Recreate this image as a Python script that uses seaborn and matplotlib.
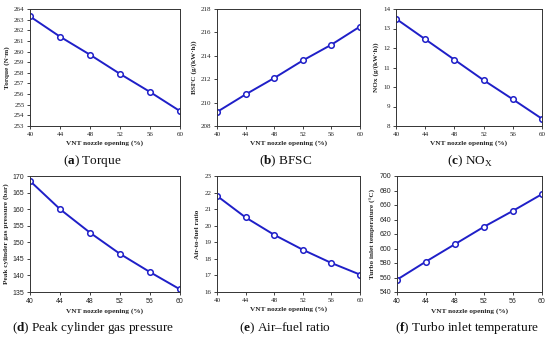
import pandas as pd
import matplotlib
matplotlib.use("Agg")
import matplotlib.pyplot as plt
import seaborn as sns

# VNT nozzle opening (%)
opening = [40, 44, 48, 52, 56, 60]

torque = [263.3, 261.4, 259.7, 257.9, 256.2, 254.4]
bsfc = [209.2, 210.7, 212.1, 213.6, 214.95, 216.5]
nox = [13.5, 12.45, 11.4, 10.35, 9.37, 8.37]
peak_pressure = [168.5, 160.0, 152.9, 146.5, 141.0, 135.8]
air_fuel = [21.8, 20.5, 19.45, 18.55, 17.75, 17.05]
turbo_temp = [557, 582, 606, 630, 652, 675]

ylabels = ["Torque (N·m)", "BSFC (g/(kW·h))", "NOx (g/(kW·h))",
           "Peak cylinder gas pressure (bar)", "Air-to-fuel ratio",
           "Turbo inlet temperature (°C)"]
captions = [r"($\mathbf{a}$) Torque", r"($\mathbf{b}$) BFSC",
            r"($\mathbf{c}$) NO$_\mathregular{X}$",
            r"($\mathbf{d}$) Peak cylinder gas pressure",
            r"($\mathbf{e}$) Air–fuel ratio",
            r"($\mathbf{f}$) Turbo inlet temperature"]
ylims = [(253, 264), (208, 218), (8, 14), (135, 170), (16, 23), (540, 700)]
ysteps = [1, 2, 1, 5, 1, 20]

sns.set_theme(style="ticks")
plt.rcParams["font.family"] = ["Liberation Serif", "DejaVu Serif"]
plt.rcParams["mathtext.fontset"] = "custom"
plt.rcParams["mathtext.rm"] = "Liberation Serif"
plt.rcParams["mathtext.bf"] = "Liberation Serif:bold"

fig = plt.figure(figsize=(5.5, 3.39), dpi=100)
W, H = 550, 339

# axes boxes in pixels: left, right, top, bottom
boxes = [(30, 180, 9, 126), (217, 360, 9, 126), (396, 542, 9, 126),
         (30, 180, 176, 292), (217, 360, 176, 292), (397, 542, 176, 292)]
cap_pos = [(92, 161), (286, 161), (470, 161), (93, 328), (285, 328), (467, 328)]
sans_ticks = [False, False, False, True, False, True]

series = [torque, bsfc, nox, peak_pressure, air_fuel, turbo_temp]
blue = "#1f1fc8"

for i, vals in enumerate(series):
    l, r, t, b = boxes[i]
    ax = fig.add_axes([l / W, 1 - b / H, (r - l) / W, (b - t) / H])
    df = pd.DataFrame({"x": opening, "y": vals})
    sns.lineplot(data=df, x="x", y="y", ax=ax, color=blue, lw=1.4,
                 marker="o", markersize=4, markerfacecolor="white",
                 markeredgecolor=blue, markeredgewidth=1.1)
    ax.set_xlim(40, 60)
    ax.set_xticks(opening)
    lo, hi = ylims[i]
    ax.set_ylim(lo, hi)
    ax.set_yticks(range(lo, hi + 1, ysteps[i]))
    tfam = ["Liberation Sans"] if sans_ticks[i] else ["Liberation Serif"]
    for lab in ax.get_xticklabels() + ax.get_yticklabels():
        lab.set_fontfamily(tfam)
        lab.set_fontsize(5)
    ax.tick_params(length=2, width=0.6, pad=2, colors="#222222")
    ax.set_xlabel("VNT nozzle opening (%)", fontsize=5.2, fontweight="bold", labelpad=2.5)
    ax.set_ylabel(ylabels[i], fontsize=5.2, fontweight="bold", labelpad=3)
    for s in ax.spines.values():
        s.set_linewidth(0.7)
        s.set_color("#333333")
        s.set_visible(True)
    cx, cy = cap_pos[i]
    fig.text(cx / W, 1 - cy / H, captions[i], ha="center",
             va="center", fontsize=9.5, color="#111111")

fig.savefig("out.png", dpi=100)
